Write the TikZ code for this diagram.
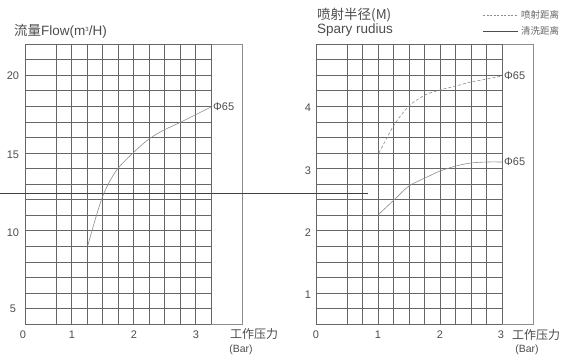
\documentclass[tikz,border=0pt]{standalone}
\usepackage{fontspec}
\setmainfont{Liberation Sans}
\newfontfamily\cjk{Noto Sans CJK SC}
\usepackage{tikz}
\usetikzlibrary{positioning}
\usepackage{xcolor}

\begin{document}
\begin{tikzpicture}[x=1pt, y=-1pt,
  gridline/.style={draw=black!60, line width=0.5pt},
  frame/.style={draw=black!45, line width=0.5pt},
  curve/.style={draw=black!45, line width=0.6pt},
  every node/.style={inner sep=0pt, text=black!70},
  ticklabel/.style={font=\fontsize{11}{11}\selectfont},
  title/.style={anchor=west, font=\fontsize{13.5}{14}\selectfont},
  legendtext/.style={anchor=west, text=black!60, font=\cjk\fontsize{9.5}{10}\selectfont}]
  \useasboundingbox (0,0) rectangle (566,358);
  % both grids
  \foreach \ox in {0,291} {
    \draw[frame] (25+\ox,44) rectangle (242+\ox,324);
    \foreach \k in {0,...,18}
      \draw[gridline] (25+\ox,{44+15.56*\k}) -- (211+\ox,{44+15.56*\k});
    \foreach \k in {0,2,3,...,12}
      \draw[gridline] ({25+\ox+15.5*\k},44) -- ({25+\ox+15.5*\k},324);
  }
  \draw[black!75, line width=0.7pt] (0,193) -- (368,193);
  % flow chart
  \node[title] (flowtitle) at (14,31) {{\cjk 流量}Flow(m\raisebox{4pt}{\fontsize{6}{6}\selectfont 3}/H)};
  \foreach \v/\y in {20/76, 15/155, 10/233, 5/309}
    \node[ticklabel] (flowy\v) at (13,\y) {\v};
  \foreach \v/\x in {0/23, 1/72, 2/134, 3/196}
    \node[ticklabel] (flowx\v) at (\x,335) {\v};
  \node[font=\cjk\fontsize{12}{12}\selectfont] (flowpress) at (254,334) {工作压力};
  \node[font=\fontsize{10.5}{10.5}\selectfont] (flowbar) at (241,350) {(Bar)};
  \draw[curve] plot[smooth] coordinates {(88,245) (102,198) (116,171) (133,153)
    (149,139) (164,130) (179,123) (195,115) (211,107)};
  \node[ticklabel, anchor=west] (flowphi) at (213,107) {Φ65};
  % spray chart
  \node[title] (spraytitle) at (317,15) {\cjk 喷射半径(M)};
  \node[title] (sprayname) at (317,30) {Spary rudius};
  \foreach \v/\y in {4/108, 3/171, 2/233, 1/295}
    \node[ticklabel] (sprayy\v) at (308,\y) {\v};
  \foreach \v/\x in {0/316, 1/378, 2/440, 3/501}
    \node[ticklabel] (sprayx\v) at (\x,335) {\v};
  \node[font=\cjk\fontsize{12}{12}\selectfont] (spraypress) at (536,335) {工作压力};
  \node[font=\fontsize{10.5}{10.5}\selectfont] (spraybar) at (527,350) {(Bar)};
  \draw[curve, dash pattern=on 3pt off 2pt] plot[smooth] coordinates {(379,153) (394,125)
    (409,106) (425,95) (440,90) (456,86) (471,82) (487,79) (502,76)};
  \draw[curve] plot[smooth] coordinates {(379,214) (394,200) (409,186) (425,178)
    (440,171) (456,166) (471,163) (487,162) (502,162)};
  \node[ticklabel, anchor=west] (sprayphia) at (504,76) {Φ65};
  \node[ticklabel, anchor=west] (sprayphib) at (504,162) {Φ65};
  % legend
  \node[legendtext] (legspray) at (521,15) {喷射距离};
  \node[legendtext] (legwash) at (521,31) {清洗距离};
  \coordinate (legsprayend) at (483,15);
  \coordinate (legwashend) at (483,31);
  \draw[curve, dash pattern=on 2pt off 1.5pt] (legsprayend) -- ([xshift=-3pt]legspray.west);
  \draw[curve, draw=black!70] (legwashend) -- ([xshift=-3pt]legwash.west);
\end{tikzpicture}
\end{document}
